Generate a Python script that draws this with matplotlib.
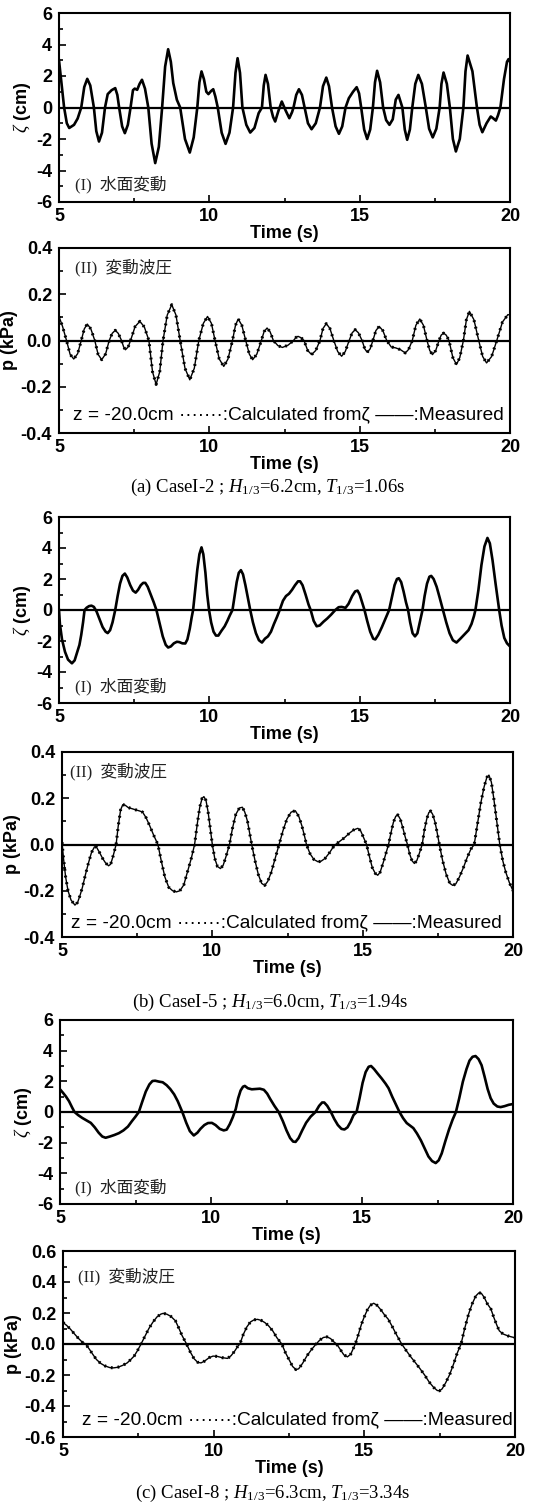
import matplotlib.pyplot as plt
from matplotlib.ticker import MultipleLocator, FormatStrFormatter

plt.rcParams['axes.unicode_minus'] = False
plt.rcParams['mathtext.fontset'] = 'custom'
plt.rcParams['mathtext.rm'] = 'Liberation Serif'
plt.rcParams['mathtext.it'] = 'Liberation Serif:italic'
plt.rcParams['mathtext.bf'] = 'Liberation Serif:bold'

# ---- (a) CaseI-2 ----
t_za = [5.0, 5.08, 5.17, 5.26, 5.34, 5.5, 5.62, 5.74, 5.84, 5.94, 6.04, 6.16, 6.24, 6.33, 6.43,
        6.53, 6.62, 6.75, 6.87, 6.94, 7.0, 7.1, 7.19, 7.29, 7.38, 7.46, 7.52, 7.6, 7.68, 7.76,
        7.86, 7.97, 8.08, 8.2, 8.32, 8.43, 8.53, 8.63, 8.72, 8.8, 8.92, 9.03, 9.19, 9.35, 9.48,
        9.6, 9.67, 9.74, 9.82, 9.9, 9.97, 10.06, 10.13, 10.2, 10.28, 10.41, 10.54, 10.67, 10.79,
        10.87, 10.94, 11.02, 11.1, 11.23, 11.36, 11.5, 11.64, 11.75, 11.81, 11.87, 11.95, 12.04,
        12.12, 12.19, 12.3, 12.41, 12.54, 12.66, 12.75, 12.8, 12.89, 12.98, 13.08, 13.17, 13.28,
        13.4, 13.54, 13.68, 13.78, 13.89, 13.98, 14.08, 14.2, 14.31, 14.42, 14.53, 14.64, 14.78,
        14.9, 14.98, 15.05, 15.15, 15.25, 15.35, 15.44, 15.51, 15.58, 15.68, 15.78, 15.88, 15.99,
        16.1, 16.2, 16.29, 16.37, 16.42, 16.5, 16.58, 16.67, 16.75, 16.85, 16.95, 17.07, 17.2,
        17.31, 17.43, 17.55, 17.66, 17.72, 17.79, 17.9, 18.0, 18.1, 18.2, 18.33, 18.45, 18.52,
        18.59, 18.75, 18.9, 18.99, 19.08, 19.22, 19.36, 19.45, 19.53, 19.6, 19.68, 19.8, 19.9,
        19.95, 20.0]
zeta_a = [3.0, 1.6, 0.0, -1.0, -1.3, -1.1, -0.7, 0.0, 1.3, 1.82, 1.4, 0.0, -1.5, -2.16, -1.6,
          0.0, 0.85, 1.1, 1.23, 0.8, 0.0, -1.2, -1.63, -1.1, 0.0, 1.1, 1.2, 1.12, 1.5, 1.76,
          1.2, 0.0, -2.3, -3.53, -2.5, 0.0, 2.6, 3.7, 2.9, 1.55, 0.49, 0.0, -2.0, -2.86, -1.9,
          0.0, 1.6, 2.29, 1.8, 1.0, 0.85, 1.05, 1.16, 0.7, 0.0, -1.6, -2.31, -1.6, 0.0,
          2.2, 3.13, 2.2, 0.0, -1.1, -1.59, -1.3, -0.36, 0.0, 1.4, 2.07, 1.5, 0.0,
          -0.6, -0.89, -0.2, 0.38, -0.2, -0.68, -0.3, 0.0, 0.8, 1.16, 0.8, 0.0, -1.0,
          -1.38, -1.0, 0.0, 1.35, 1.9, 1.35, 0.0, -1.2, -1.67, -1.2, 0.0, 0.59, 1.0,
          1.29, 0.9, 0.0, -1.4, -2.0, -1.4, 0.0, 1.6, 2.33, 1.6, 0.0, -0.8, -1.1,
          -0.75, 0.5, 0.8, 0.3, 0.0, -1.4, -2.05, -1.4, 0.0, 1.5, 2.07, 1.5, 0.0,
          -1.35, -1.9, -1.35, 0.0, 1.5, 2.22, 1.5, 0.0, -2.0, -2.79, -2.0, 0.0, 2.3,
          3.3, 2.3, 0.0, -1.1, -1.57, -1.0, -0.57, -0.7, -0.83, -0.5, 0.0, 1.8, 2.9,
          3.07, 2.9]

t_pa = [5.0, 5.12, 5.25, 5.37, 5.49, 5.62, 5.74, 5.84, 5.94, 6.06, 6.19, 6.3, 6.42, 6.55, 6.67,
        6.77, 6.87, 6.97, 7.08, 7.15, 7.21, 7.3, 7.38, 7.53, 7.69, 7.84, 7.99, 8.11, 8.23, 8.35,
        8.46, 8.6, 8.75, 8.89, 9.03, 9.19, 9.35, 9.5, 9.65, 9.8, 9.94, 10.07, 10.19, 10.33, 10.48,
        10.62, 10.77, 10.87, 10.96, 11.08, 11.21, 11.33, 11.44, 11.58, 11.73, 11.82, 11.92, 12.02,
        12.13, 12.28, 12.43, 12.62, 12.8, 12.88, 12.95, 13.05, 13.15, 13.27, 13.4, 13.54, 13.68,
        13.78, 13.89, 14.01, 14.14, 14.27, 14.4, 14.52, 14.65, 14.75, 14.85, 14.96, 15.08, 15.17,
        15.25, 15.35, 15.44, 15.54, 15.65, 15.77, 15.9, 16.05, 16.2, 16.36, 16.52, 16.63, 16.75,
        16.87, 17.0, 17.12, 17.24, 17.33, 17.42, 17.53, 17.64, 17.71, 17.79, 17.88, 17.97, 18.1,
        18.22, 18.33, 18.45, 18.55, 18.65, 18.8, 18.96, 19.09, 19.22, 19.39, 19.56, 19.75, 19.93,
        20.0]
p_a = [0.104, 0.06, 0.0, -0.06, -0.08, -0.057, 0.0, 0.05, 0.071, 0.05, 0.0, -0.06, -0.083, -0.058, 0.0,
       0.031, 0.044, 0.031, 0.0, -0.028, -0.04, -0.028, 0.0, 0.06, 0.083, 0.058, 0.0, -0.135, -0.19, -0.135,
       0.0, 0.11, 0.155, 0.11, 0.0, -0.12, -0.17, -0.12, 0.0, 0.074, 0.104, 0.074, 0.0, -0.08, -0.112,
       -0.08, 0.0, 0.066, 0.093, 0.066, 0.0, -0.059, -0.083, -0.059, 0.0, 0.038, 0.054, 0.038,
       0.0, -0.022, -0.03, -0.02, 0.0, 0.013, 0.018, 0.012, 0.0, -0.043, -0.061, -0.043, 0.0,
       0.052, 0.073, 0.052, 0.0, -0.048, -0.068, -0.048, 0.0, 0.033, 0.047, 0.033, 0.0, -0.036,
       -0.051, -0.036, 0.0, 0.043, 0.061, 0.043, 0.0, -0.028, -0.032, -0.04, -0.054, -0.038, 0.0,
       0.066, 0.093, 0.066, 0.0, -0.043, -0.061, -0.043, 0.0, 0.023, 0.032, 0.023, 0.0, -0.074,
       -0.104, -0.074, 0.0, 0.09, 0.126, 0.09, 0.0, -0.069, -0.097, -0.069, 0.0, 0.08, 0.112,
       0.11]

# ---- (b) CaseI-5 ----
t_zb = [5.0, 5.03, 5.1, 5.2, 5.3, 5.43, 5.52, 5.6, 5.68, 5.74, 5.8, 5.85, 5.92, 6.0, 6.08,
        6.16, 6.25, 6.35, 6.45, 6.55, 6.62, 6.7, 6.78, 6.87, 6.95, 7.03, 7.11, 7.19, 7.27, 7.37,
        7.46, 7.55, 7.63, 7.72, 7.8, 7.87, 7.95, 8.05, 8.15, 8.24, 8.35, 8.45, 8.55, 8.63, 8.72,
        8.82, 8.92, 9.0, 9.1, 9.2, 9.27, 9.35, 9.41, 9.46, 9.53, 9.6, 9.67, 9.74, 9.8, 9.87,
        9.93, 9.99, 10.06, 10.14, 10.22, 10.3, 10.4, 10.51, 10.6, 10.68, 10.77, 10.84, 10.91,
        10.98, 11.05, 11.12, 11.2, 11.28, 11.36, 11.45, 11.55, 11.65, 11.75, 11.85, 11.95, 12.05,
        12.15, 12.25, 12.34, 12.45, 12.55, 12.65, 12.75, 12.85, 12.95, 13.02, 13.1, 13.2, 13.3,
        13.37, 13.47, 13.57, 13.67, 13.8, 13.92, 14.05, 14.19, 14.3, 14.4, 14.53, 14.63, 14.75,
        14.85, 14.93, 15.0, 15.08, 15.16, 15.25, 15.35, 15.45, 15.52, 15.62, 15.74, 15.86, 15.98,
        16.07, 16.16, 16.24, 16.3, 16.38, 16.46, 16.54, 16.61, 16.68, 16.76, 16.84, 16.92, 17.0,
        17.09, 17.16, 17.24, 17.32, 17.38, 17.46, 17.56, 17.66, 17.77, 17.88, 17.99, 18.1, 18.22,
        18.35, 18.5, 18.62, 18.72, 18.8, 18.85, 18.95, 19.05, 19.15, 19.25, 19.33, 19.42, 19.52,
        19.64, 19.72, 19.81, 19.9, 20.0]
zeta_b = [0.0, -0.9, -1.9, -2.7, -3.2, -3.44, -3.25, -2.75, -2.25, -1.6, -0.8, 0.0, 0.15, 0.25, 0.28,
          0.2, -0.1, -0.6, -1.1, -1.4, -1.49, -1.3, -0.8, 0.0, 0.9, 1.7, 2.2, 2.35, 2.1, 1.6,
          1.25, 1.12, 1.3, 1.6, 1.75, 1.75, 1.5, 1.0, 0.5, 0.0, -0.9, -1.7, -2.25, -2.42, -2.35,
          -2.15, -2.05, -2.07, -2.15, -2.16, -1.9, -1.2, -0.5, 0.0, 1.3, 2.6, 3.6, 4.04, 3.6, 2.4,
          1.0, 0.0, -0.8, -1.4, -1.65, -1.65, -1.35, -1.05, -0.7, -0.35, 0.0, 0.9, 1.8,
          2.4, 2.57, 2.3, 1.6, 0.8, 0.0, -0.8, -1.5, -1.95, -2.1, -1.85, -1.7, -1.4,
          -0.9, -0.45, 0.0, 0.6, 0.9, 1.05, 1.3, 1.6, 1.85, 1.85, 1.6, 1.0, 0.35,
          0.0, -0.7, -1.05, -1.0, -0.75, -0.55, -0.3, 0.0, 0.18, 0.2, 0.14, 0.4, 0.9,
          1.2, 1.25, 1.0, 0.5, 0.0, -0.7, -1.4, -1.85, -1.9, -1.6, -1.1, -0.55, 0.0,
          0.8, 1.6, 2.0, 2.05, 1.8, 1.2, 0.5, 0.0, -0.8, -1.5, -1.7, -1.5, -0.8,
          0.0, 0.9, 1.7, 2.15, 2.2, 2.0, 1.5, 0.8, 0.0, -0.8, -1.5, -1.95, -2.1,
          -1.85, -1.55, -1.3, -0.9, -0.4, 0.0, 1.3, 2.9, 4.1, 4.65, 4.3, 3.2, 1.7,
          0.0, -1.0, -1.8, -2.15, -2.35]

t_pb = [5.0, 5.05, 5.12, 5.2, 5.3, 5.43, 5.52, 5.6, 5.68, 5.78, 5.88, 5.98, 6.08, 6.15, 6.25,
        6.35, 6.45, 6.55, 6.62, 6.7, 6.8, 6.87, 6.95, 7.02, 7.1, 7.2, 7.32, 7.45, 7.58, 7.68,
        7.8, 7.92, 8.05, 8.19, 8.3, 8.42, 8.55, 8.68, 8.8, 8.92, 9.05, 9.17, 9.3, 9.41, 9.5,
        9.58, 9.66, 9.72, 9.79, 9.86, 9.93, 10.0, 10.08, 10.17, 10.27, 10.36, 10.46, 10.57, 10.67,
        10.78, 10.9, 11.0, 11.08, 11.17, 11.24, 11.31, 11.42, 11.53, 11.64, 11.74, 11.84, 11.96,
        12.09, 12.22, 12.35, 12.48, 12.62, 12.76, 12.88, 12.98, 13.06, 13.13, 13.25, 13.38, 13.52,
        13.62, 13.75, 13.9, 14.0, 14.1, 14.25, 14.4, 14.55, 14.7, 14.84, 14.93, 15.03, 15.13,
        15.22, 15.32, 15.42, 15.5, 15.58, 15.68, 15.77, 15.86, 15.94, 16.02, 16.1, 16.17, 16.25,
        16.33, 16.41, 16.49, 16.56, 16.64, 16.72, 16.8, 16.88, 16.98, 17.05, 17.13, 17.2, 17.26,
        17.33, 17.41, 17.48, 17.55, 17.66, 17.78, 17.9, 18.0, 18.1, 18.22, 18.35, 18.48, 18.6,
        18.71, 18.82, 18.93, 19.04, 19.13, 19.2, 19.28, 19.36, 19.46, 19.56, 19.66, 19.76, 19.88,
        20.0]
p_b = [0.01, -0.06, -0.14, -0.2, -0.24, -0.262, -0.25, -0.22, -0.185, -0.13, -0.08, -0.035, -0.01, -0.012, -0.035,
       -0.06, -0.08, -0.092, -0.085, -0.05, 0.0, 0.08, 0.15, 0.172, 0.17, 0.16, 0.155, 0.15, 0.145, 0.14,
       0.115, 0.08, 0.04, 0.0, -0.07, -0.14, -0.185, -0.2, -0.205, -0.2, -0.175, -0.12, -0.06, 0.0, 0.09,
       0.16, 0.2, 0.207, 0.19, 0.14, 0.07, 0.0, -0.06, -0.095, -0.104, -0.09, -0.05, 0.0, 0.07,
       0.13, 0.158, 0.161, 0.14, 0.1, 0.05, 0.0, -0.07, -0.13, -0.168, -0.177, -0.16, -0.12,
       -0.06, 0.0, 0.06, 0.11, 0.14, 0.146, 0.12, 0.08, 0.04, 0.0, -0.04, -0.065, -0.075,
       -0.072, -0.06, -0.035, -0.015, 0.0, 0.015, 0.03, 0.048, 0.063, 0.07, 0.06, 0.03, 0.0,
       -0.05, -0.1, -0.125, -0.133, -0.12, -0.08, -0.04, 0.0, 0.05, 0.095, 0.122, 0.128, 0.11,
       0.075, 0.035, 0.0, -0.04, -0.07, -0.082, -0.07, -0.04, 0.0, 0.06, 0.11, 0.138, 0.145,
       0.13, 0.095, 0.05, 0.0, -0.07, -0.13, -0.168, -0.177, -0.17, -0.14, -0.1, -0.055, -0.02,
       0.0, 0.09, 0.18, 0.25, 0.29, 0.3, 0.27, 0.2, 0.1, 0.0, -0.07, -0.12, -0.165,
       -0.2]

# ---- (c) CaseI-8 ----
t_zc = [5.0, 5.1, 5.2, 5.3, 5.4, 5.48, 5.6, 5.74, 5.88, 6.02, 6.15, 6.28, 6.4, 6.51, 6.65,
        6.8, 6.95, 7.1, 7.25, 7.38, 7.5, 7.61, 7.72, 7.84, 7.96, 8.06, 8.15, 8.28, 8.4, 8.53,
        8.65, 8.78, 8.9, 9.05, 9.18, 9.3, 9.43, 9.55, 9.65, 9.78, 9.9, 10.03, 10.15, 10.29, 10.42,
        10.52, 10.62, 10.72, 10.82, 10.9, 10.98, 11.06, 11.12, 11.22, 11.35, 11.5, 11.62, 11.75,
        11.86, 11.96, 12.1, 12.24, 12.38, 12.5, 12.62, 12.72, 12.8, 12.9, 13.02, 13.15, 13.3,
        13.46, 13.58, 13.68, 13.75, 13.85, 13.97, 14.08, 14.2, 14.32, 14.42, 14.52, 14.62, 14.72,
        14.82, 14.92, 15.02, 15.12, 15.22, 15.3, 15.4, 15.52, 15.65, 15.78, 15.88, 16.0, 16.12,
        16.24, 16.36, 16.48, 16.6, 16.7, 16.82, 16.95, 17.08, 17.2, 17.32, 17.44, 17.54, 17.64,
        17.76, 17.88, 18.0, 18.11, 18.22, 18.34, 18.46, 18.56, 18.66, 18.76, 18.86, 18.96, 19.06,
        19.16, 19.26, 19.36, 19.48, 19.59, 19.72, 19.86, 20.0]
zeta_c = [1.48, 1.25, 1.0, 0.7, 0.3, 0.0, -0.2, -0.39, -0.55, -0.71, -1.0, -1.35, -1.6, -1.68, -1.6,
          -1.5, -1.38, -1.2, -0.95, -0.6, -0.3, 0.0, 0.65, 1.33, 1.8, 2.02, 2.04, 1.98, 1.94, 1.75,
          1.5, 1.15, 0.7, 0.0, -0.7, -1.25, -1.53, -1.35, -1.1, -0.85, -0.72, -0.71, -0.85, -1.1, -1.2,
          -1.15, -0.8, -0.35, 0.2, 0.9, 1.4, 1.65, 1.7, 1.55, 1.48, 1.5, 1.52, 1.45,
          1.2, 0.85, 0.4, 0.0, -0.6, -1.2, -1.7, -1.93, -1.95, -1.7, -1.2, -0.7, -0.3,
          0.0, 0.4, 0.62, 0.62, 0.4, 0.0, -0.45, -0.85, -1.1, -1.14, -1.0, -0.65, -0.2,
          0.0, 0.9, 1.9, 2.6, 2.95, 3.0, 2.8, 2.5, 2.19, 1.85, 1.55, 1.0, 0.5,
          0.0, -0.4, -0.72, -0.9, -1.05, -1.4, -1.85, -2.4, -2.9, -3.2, -3.33, -3.15, -2.7,
          -1.9, -1.15, -0.5, 0.0, 0.9, 1.98, 2.8, 3.35, 3.6, 3.65, 3.45, 3.05, 2.3,
          1.5, 0.9, 0.55, 0.36, 0.32, 0.38, 0.47, 0.52]

t_pc = [5.0, 5.12, 5.25, 5.38, 5.52, 5.65, 5.75, 5.88, 6.0, 6.11, 6.25, 6.4, 6.55, 6.68, 6.82,
        6.98, 7.13, 7.25, 7.36, 7.48, 7.59, 7.72, 7.85, 7.98, 8.12, 8.25, 8.33, 8.45, 8.58, 8.73,
        8.85, 8.95, 9.1, 9.22, 9.35, 9.47, 9.58, 9.7, 9.85, 9.98, 10.12, 10.28, 10.46, 10.58, 10.7,
        10.8, 10.87, 10.98, 11.1, 11.22, 11.34, 11.46, 11.58, 11.7, 11.82, 11.96, 12.1, 12.26,
        12.38, 12.5, 12.62, 12.73, 12.82, 12.95, 13.1, 13.25, 13.4, 13.52, 13.64, 13.76, 13.88,
        13.98, 14.08, 14.2, 14.32, 14.44, 14.55, 14.62, 14.7, 14.8, 14.9, 14.99, 15.1, 15.2,
        15.31, 15.42, 15.55, 15.68, 15.79, 15.92, 16.08, 16.24, 16.4, 16.55, 16.7, 16.85, 17.0,
        17.15, 17.3, 17.42, 17.49, 17.58, 17.7, 17.83, 17.96, 18.08, 18.21, 18.33, 18.46, 18.58,
        18.7, 18.8, 18.88, 18.98, 19.08, 19.2, 19.3, 19.4, 19.48, 19.6, 19.77, 19.9, 20.0]
p_c = [0.139, 0.12, 0.095, 0.065, 0.035, 0.01, 0.0, -0.035, -0.07, -0.1, -0.125, -0.142, -0.152, -0.154, -0.15,
       -0.138, -0.122, -0.1, -0.078, -0.04, 0.0, 0.05, 0.1, 0.14, 0.175, 0.193, 0.198, 0.192, 0.178, 0.15,
       0.1, 0.055, 0.0, -0.05, -0.095, -0.118, -0.122, -0.11, -0.088, -0.078, -0.08, -0.088, -0.093, -0.075, -0.045,
       -0.015, 0.0, 0.06, 0.11, 0.142, 0.156, 0.159, 0.152, 0.138, 0.118, 0.085, 0.04, 0.0,
       -0.055, -0.1, -0.145, -0.165, -0.16, -0.125, -0.075, -0.035, 0.0, 0.025, 0.042, 0.046, 0.035,
       0.015, 0.0, -0.035, -0.07, -0.083, -0.065, -0.035, 0.0, 0.06, 0.125, 0.172, 0.22, 0.25,
       0.263, 0.25, 0.22, 0.185, 0.161, 0.115, 0.055, 0.0, -0.045, -0.085, -0.122, -0.16, -0.2,
       -0.245, -0.28, -0.3, -0.302, -0.29, -0.25, -0.198, -0.13, -0.06, 0.0, 0.1, 0.193, 0.26,
       0.31, 0.33, 0.328, 0.3, 0.26, 0.226, 0.17, 0.12, 0.085, 0.065, 0.052, 0.045, 0.041]

captions = [r"(a) CaseI-2 ; $H_{\mathrm{1/3}}$=6.2cm, $T_{\mathrm{1/3}}$=1.06s",
            r"(b) CaseI-5 ; $H_{\mathrm{1/3}}$=6.0cm, $T_{\mathrm{1/3}}$=1.94s",
            r"(c) CaseI-8 ; $H_{\mathrm{1/3}}$=6.3cm, $T_{\mathrm{1/3}}$=3.34s"]
legend_text = "z = -20.0cm \u00b7\u00b7\u00b7\u00b7\u00b7\u00b7\u00b7:Calculated from\u03b6 \u2014\u2014:Measured"

W, H = 534, 1507
fig = plt.figure(figsize=(W / 100, H / 100), dpi=100)


def box(l, t, r, b):
    return [l / W, 1 - b / H, (r - l) / W, (b - t) / H]


def style(ax, ylim, major, minor, fmt, ylabel):
    ax.set_xlim(5, 20)
    ax.set_ylim(*ylim)
    ax.axhline(0, color='black', lw=1.6, zorder=1)
    ax.xaxis.set_major_locator(MultipleLocator(5))
    ax.xaxis.set_minor_locator(MultipleLocator(2.5))
    ax.yaxis.set_major_locator(MultipleLocator(major))
    ax.yaxis.set_minor_locator(MultipleLocator(minor))
    ax.yaxis.set_major_formatter(FormatStrFormatter(fmt))
    ax.tick_params(which='both', direction='in', top=False, right=False, width=1.2)
    ax.tick_params(which='major', length=5)
    ax.tick_params(which='minor', length=3)
    ax.tick_params(axis='x', pad=4)
    ax.tick_params(axis='y', pad=5)
    for lab in ax.get_xticklabels() + ax.get_yticklabels():
        lab.set_fontfamily('Liberation Sans')
        lab.set_fontweight('bold')
        lab.set_fontsize(13)
    for s in ax.spines.values():
        s.set_linewidth(1.5)
    ax.set_xlabel('Time (s)', fontfamily='Liberation Sans', fontweight='bold',
                  fontsize=13, labelpad=0)
    ax.set_ylabel(ylabel, fontfamily='Liberation Sans', fontweight='bold',
                  fontsize=13, labelpad=2)


def zeta_panel(rect, t, z, tx, ty):
    ax = fig.add_axes(rect)
    ax.plot(t, z, color='black', lw=1.9, zorder=3, solid_joinstyle='round')
    style(ax, (-6, 6), 2, 1, '%d', r'$\zeta$ (cm)')
    ax.text(tx, ty, '(I)  水面変動', transform=ax.transAxes, fontsize=12,
            family=['Liberation Serif', 'Noto Sans CJK JP'], color='#222222', va='center')
    return ax


def p_panel(rect, t, p, ylim, tx, ty, lx, ly):
    ax = fig.add_axes(rect)
    # measured (solid) and calculated from zeta (dotted)
    ax.plot(t, p, color='black', lw=1.0, zorder=3, solid_joinstyle='round')
    ax.plot(t, p, color='black', lw=2.2, ls=(0, (0.6, 1.6)), zorder=4)
    style(ax, ylim, 0.2, 0.1, '%.1f', 'p (kPa)')
    ax.text(tx, ty, '(II)  変動波圧', transform=ax.transAxes, fontsize=12,
            family=['Liberation Serif', 'Noto Sans CJK JP'], color='#222222', va='center')
    ax.text(lx, ly, legend_text, transform=ax.transAxes, fontsize=13.8,
            family=['Liberation Sans', 'DejaVu Sans'], va='center')
    return ax


zeta_panel(box(59, 13, 510, 202), t_za, zeta_a, 0.035, 0.09)
p_panel(box(59, 248, 510, 433), t_pa, p_a, (-0.4, 0.4), 0.035, 0.897, 0.031, 0.097)
fig.text(268 / W, 1 - 487 / H, captions[0], ha='center', va='center',
         fontsize=13.5, family='Liberation Serif')

zeta_panel(box(59, 517, 510, 703), t_zb, zeta_b, 0.035, 0.086)
p_panel(box(62, 752, 513, 937), t_pb, p_b, (-0.4, 0.4), 0.018, 0.892, 0.021, 0.076)
fig.text(270 / W, 1 - 1002 / H, captions[1], ha='center', va='center',
         fontsize=13.5, family='Liberation Serif')

zeta_panel(box(60, 1020, 513, 1204), t_zc, zeta_c, 0.033, 0.087)
p_panel(box(63, 1251, 515, 1437), t_pc, p_c, (-0.6, 0.6), 0.033, 0.86, 0.042, 0.09)
fig.text(273 / W, 1 - 1493 / H, captions[2], ha='center', va='center',
         fontsize=13.5, family='Liberation Serif')

fig.savefig('out.png', dpi=100, facecolor='white')
